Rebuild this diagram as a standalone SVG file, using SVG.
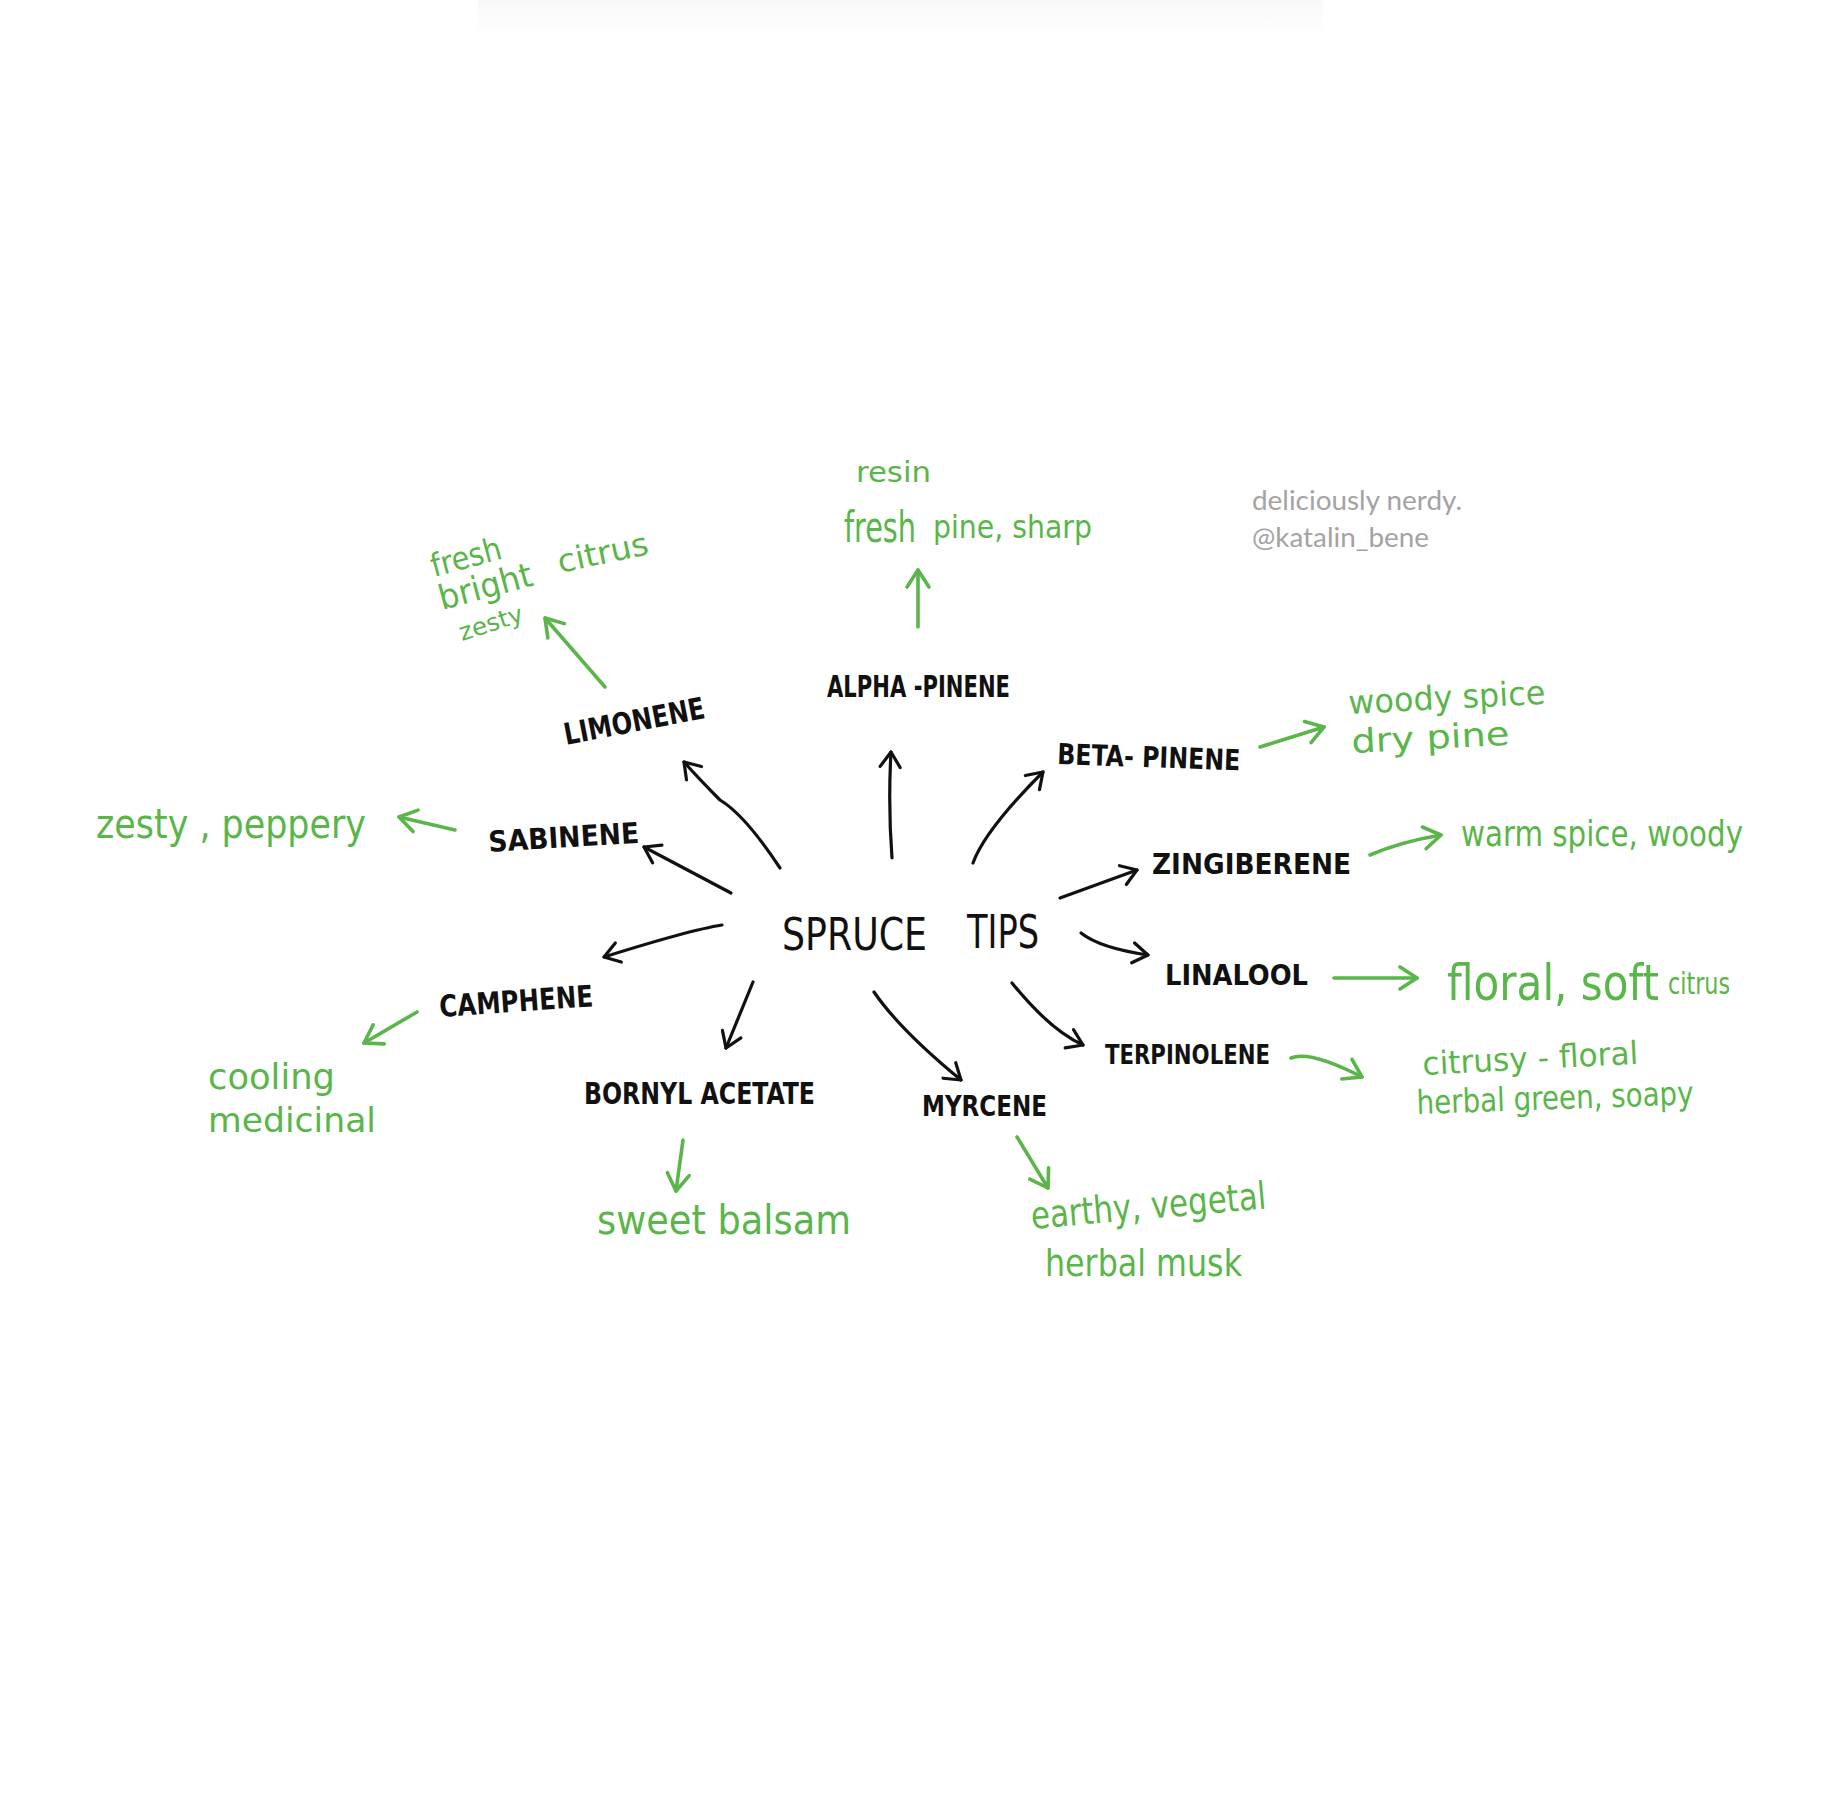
<svg xmlns="http://www.w3.org/2000/svg" width="1831" height="1811" viewBox="0 0 1831 1811">
<style>
.blk{font-family:"DejaVu Sans Condensed","DejaVu Sans","Liberation Sans",sans-serif;font-weight:bold;fill:#111;}
.grn{font-family:"DejaVu Sans Condensed","DejaVu Sans","Liberation Sans",sans-serif;fill:#5ab54a;}
.wm{font-family:Lato,"Open Sans",sans-serif;fill:#a3a3a3;font-size:26px;}
.ca{fill:none;stroke:#111;stroke-width:3.2;stroke-linecap:round;stroke-linejoin:round;}
.ga{fill:none;stroke:#5ab54a;stroke-width:3.6;stroke-linecap:round;stroke-linejoin:round;}
</style>
<defs>
<linearGradient id="shade" x1="0" y1="0" x2="0" y2="1">
<stop offset="0" stop-color="#f8f8f8"/>
<stop offset="1" stop-color="#ffffff"/>
</linearGradient>
<marker id="ab" markerUnits="userSpaceOnUse" orient="auto" overflow="visible" markerWidth="1" markerHeight="1" refX="0" refY="0">
<path d="M-15,-10 L0,0 L-15,10" fill="none" stroke="#111" stroke-width="3.2" stroke-linecap="round" stroke-linejoin="round"/>
</marker>
<marker id="ag" markerUnits="userSpaceOnUse" orient="auto" overflow="visible" markerWidth="1" markerHeight="1" refX="0" refY="0">
<path d="M-17,-11 L0,0 L-17,11" fill="none" stroke="#5ab54a" stroke-width="3.6" stroke-linecap="round" stroke-linejoin="round"/>
</marker>
</defs>
<rect x="0" y="0" width="1831" height="1811" fill="#ffffff"/>
<rect x="478" y="0" width="845" height="36" fill="url(#shade)"/>

<g id="connectors">
<path class="ca" marker-end="url(#ab)" d="M892,858 Q888,805 891,752"/>
<path class="ca" marker-end="url(#ab)" d="M780,868 Q745,815 720,800 Q700,780 684,762"/>
<path class="ca" marker-end="url(#ab)" d="M973,863 Q985,830 1043,772"/>
<path class="ca" marker-end="url(#ab)" d="M731,893 L644,847"/>
<path class="ca" marker-end="url(#ab)" d="M1060,898 L1137,870"/>
<path class="ca" marker-end="url(#ab)" d="M722,925 Q690,930 604,957"/>
<path class="ca" marker-end="url(#ab)" d="M1081,933 Q1100,948 1148,955"/>
<path class="ca" marker-end="url(#ab)" d="M753,982 L726,1048"/>
<path class="ca" marker-end="url(#ab)" d="M874,992 Q900,1030 961,1080"/>
<path class="ca" marker-end="url(#ab)" d="M1012,983 Q1050,1030 1083,1045"/>

<path class="ga" marker-end="url(#ag)" d="M918,627 L918,570"/>
<path class="ga" marker-end="url(#ag)" d="M605,687 L545,618"/>
<path class="ga" marker-end="url(#ag)" d="M1260,747 L1324,727"/>
<path class="ga" marker-end="url(#ag)" d="M1370,855 Q1400,842 1441,835"/>
<path class="ga" marker-end="url(#ag)" d="M1334,978 L1417,978"/>
<path class="ga" marker-end="url(#ag)" d="M1291,1058 Q1310,1050 1362,1077"/>
<path class="ga" marker-end="url(#ag)" d="M1017,1137 L1048,1188"/>
<path class="ga" marker-end="url(#ag)" d="M683,1140 L676,1191"/>
<path class="ga" marker-end="url(#ag)" d="M417,1012 L364,1043"/>
<path class="ga" marker-end="url(#ag)" d="M455,830 L399,817"/>
</g>

<g id="spruce-tips">
<text class="blk" style="font-weight:normal" font-size="44" x="782" y="950" textLength="145" lengthAdjust="spacingAndGlyphs">SPRUCE</text>
<text class="blk" style="font-weight:normal" font-size="46" x="967" y="948" textLength="72" lengthAdjust="spacingAndGlyphs">TIPS</text>
</g>

<g id="alpha-pinene">
<text class="blk" font-size="30" x="827" y="697" textLength="183" lengthAdjust="spacingAndGlyphs">ALPHA -PINENE</text>
</g>
<g id="limonene">
<text class="blk" font-size="30" x="566" y="745" textLength="143" lengthAdjust="spacingAndGlyphs" transform="rotate(-11 566 745)">LIMONENE</text>
</g>
<g id="beta-pinene">
<text class="blk" font-size="29" x="1057" y="764" textLength="183" lengthAdjust="spacingAndGlyphs" transform="rotate(2 1057 764)">BETA- PINENE</text>
</g>
<g id="sabinene">
<text class="blk" font-size="29" x="489" y="852" textLength="151" lengthAdjust="spacingAndGlyphs" transform="rotate(-3.5 489 852)">SABINENE</text>
</g>
<g id="zingiberene">
<text class="blk" font-size="29" x="1152" y="874" textLength="199" lengthAdjust="spacingAndGlyphs">ZINGIBERENE</text>
</g>
<g id="camphene">
<text class="blk" font-size="30" x="440" y="1017" textLength="154" lengthAdjust="spacingAndGlyphs" transform="rotate(-4 440 1017)">CAMPHENE</text>
</g>
<g id="linalool">
<text class="blk" font-size="28" x="1165" y="985" textLength="143" lengthAdjust="spacingAndGlyphs">LINALOOL</text>
</g>
<g id="terpinolene">
<text class="blk" font-size="27" x="1105" y="1064" textLength="165" lengthAdjust="spacingAndGlyphs">TERPINOLENE</text>
</g>
<g id="bornyl-acetate">
<text class="blk" font-size="30" x="584" y="1104" textLength="231" lengthAdjust="spacingAndGlyphs">BORNYL  ACETATE</text>
</g>
<g id="myrcene">
<text class="blk" font-size="29" x="922" y="1116" textLength="125" lengthAdjust="spacingAndGlyphs">MYRCENE</text>
</g>

<g id="alpha-notes">
<text class="grn" font-size="28" x="856" y="482" textLength="75" lengthAdjust="spacingAndGlyphs">resin</text>
<text class="grn" font-size="42" x="844" y="542" textLength="72" lengthAdjust="spacingAndGlyphs">fresh</text>
<text class="grn" font-size="32" x="933" y="538" textLength="159" lengthAdjust="spacingAndGlyphs">pine, sharp</text>
</g>
<g id="limonene-notes">
<text class="grn" font-size="32" x="434" y="577" textLength="72" lengthAdjust="spacingAndGlyphs" transform="rotate(-15 434 577)">fresh</text>
<text class="grn" font-size="34" x="442" y="610" textLength="96" lengthAdjust="spacingAndGlyphs" transform="rotate(-15 442 610)">bright</text>
<text class="grn" font-size="32" x="560" y="573" textLength="92" lengthAdjust="spacingAndGlyphs" transform="rotate(-12 560 573)">citrus</text>
<text class="grn" font-size="24" x="462" y="641" textLength="66" lengthAdjust="spacingAndGlyphs" transform="rotate(-18 462 641)">zesty</text>
</g>
<g id="beta-notes">
<text class="grn" font-size="33" x="1349" y="714" textLength="197" lengthAdjust="spacingAndGlyphs" transform="rotate(-3 1349 714)">woody spice</text>
<text class="grn" font-size="33" x="1352" y="753" textLength="158" lengthAdjust="spacingAndGlyphs" transform="rotate(-3 1352 753)">dry pine</text>
</g>
<g id="zingiberene-notes">
<text class="grn" font-size="36" x="1461" y="846" textLength="282" lengthAdjust="spacingAndGlyphs">warm spice, woody</text>
</g>
<g id="linalool-notes">
<text class="grn" font-size="50" x="1447" y="1000" textLength="212" lengthAdjust="spacingAndGlyphs">floral, soft</text>
<text class="grn" font-size="30" x="1668" y="994" textLength="62" lengthAdjust="spacingAndGlyphs">citrus</text>
</g>
<g id="terpinolene-notes">
<text class="grn" font-size="32" x="1423" y="1075" textLength="216" lengthAdjust="spacingAndGlyphs" transform="rotate(-3 1423 1075)">citrusy - floral</text>
<text class="grn" font-size="33" x="1417" y="1114" textLength="277" lengthAdjust="spacingAndGlyphs" transform="rotate(-2 1417 1114)">herbal green, soapy</text>
</g>
<g id="myrcene-notes">
<text class="grn" font-size="38" x="1032" y="1229" textLength="236" lengthAdjust="spacingAndGlyphs" transform="rotate(-5 1032 1229)">earthy, vegetal</text>
<text class="grn" font-size="38" x="1045" y="1276" textLength="197" lengthAdjust="spacingAndGlyphs">herbal musk</text>
</g>
<g id="bornyl-notes">
<text class="grn" font-size="40" x="597" y="1234" textLength="254" lengthAdjust="spacingAndGlyphs">sweet  balsam</text>
</g>
<g id="camphene-notes">
<text class="grn" font-size="35" x="208" y="1089" textLength="127" lengthAdjust="spacingAndGlyphs">cooling</text>
<text class="grn" font-size="34" x="208" y="1132" textLength="168" lengthAdjust="spacingAndGlyphs">medicinal</text>
</g>
<g id="sabinene-notes">
<text class="grn" font-size="40" x="96" y="838" textLength="270" lengthAdjust="spacingAndGlyphs">zesty , peppery</text>
</g>

<g id="watermark">
<text class="wm" x="1252" y="510" textLength="210" lengthAdjust="spacingAndGlyphs">deliciously nerdy.</text>
<text class="wm" x="1252" y="547" textLength="177" lengthAdjust="spacingAndGlyphs">@katalin_bene</text>
</g>
</svg>
